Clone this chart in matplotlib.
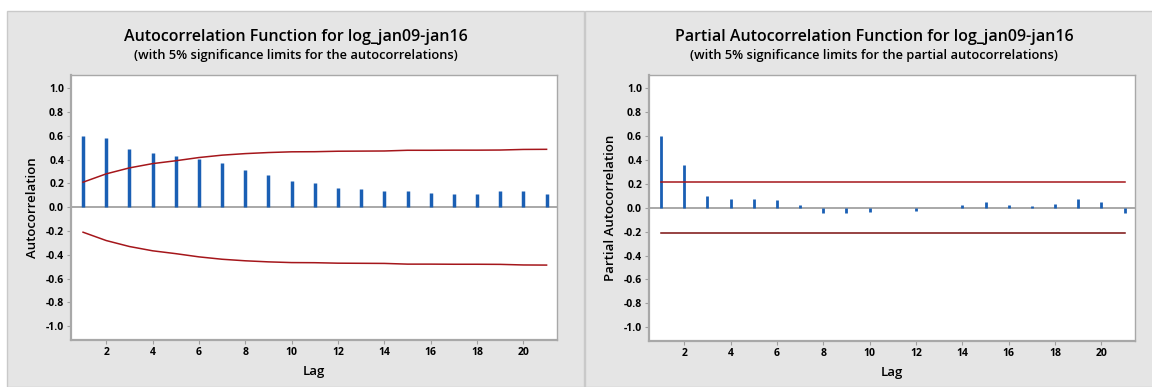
import matplotlib.pyplot as plt
from matplotlib.patches import Rectangle

# ACF / PACF values
lags = list(range(1, 22))
acf = [0.60, 0.583, 0.49, 0.457, 0.431, 0.403, 0.372, 0.313, 0.270, 0.220, 0.203,
       0.161, 0.152, 0.135, 0.135, 0.118, 0.107, 0.107, 0.135, 0.14, 0.107]
acf_limit = [0.21, 0.28, 0.33, 0.366, 0.39, 0.417, 0.437, 0.45, 0.459, 0.465, 0.466,
             0.47, 0.471, 0.472, 0.478, 0.478, 0.479, 0.479, 0.480, 0.485, 0.486]
pacf = [0.60, 0.358, 0.10, 0.074, 0.074, 0.066, 0.026, -0.046, -0.046, -0.037, 0.0,
        -0.029, 0.0, 0.02, 0.049, 0.02, 0.017, 0.034, 0.074, 0.049, -0.046]
pacf_limit = 0.214

yticks = [1.0, 0.8, 0.6, 0.4, 0.2, 0.0, -0.2, -0.4, -0.6, -0.8, -1.0]
xticks = [2, 4, 6, 8, 10, 12, 14, 16, 18, 20]

plt.rcParams['font.family'] = ['Open Sans', 'DejaVu Sans']
bar_color = '#1a5fb4'
lim_color = '#a5161b'
grey_bg = '#e5e5e5'

fig = plt.figure(figsize=(11.52, 3.87), dpi=100)
W, H = 1152, 387

# grey panels behind each chart
fig.patches.append(Rectangle((7 / W, 0), 577 / W, 1 - 11 / H, transform=fig.transFigure,
                             facecolor=grey_bg, edgecolor='#c9c9c9', lw=1, zorder=-5))
fig.patches.append(Rectangle((585 / W, 0), 567 / W + 0.01, 1 - 11 / H, transform=fig.transFigure,
                             facecolor=grey_bg, edgecolor='#c9c9c9', lw=1, zorder=-5))


def setup(ax, ylabel):
    ax.set_zorder(2)
    ax.set_xlim(0.48, 21.45)
    ax.set_ylim(-1.115, 1.11)
    ax.axhline(0, color='#9a9a9a', lw=1.2, zorder=1)
    ax.set_yticks(yticks)
    ax.set_yticklabels(['%.1f' % v for v in yticks])
    ax.set_xticks(xticks)
    ax.tick_params(axis='both', labelsize=7.5, length=3, width=0.8, color='#a0a0a0', pad=2)
    for lab in ax.get_xticklabels() + ax.get_yticklabels():
        lab.set_fontweight('bold')
    for s in ax.spines.values():
        s.set_color('#a8a8a8')
        s.set_linewidth(1)
    ax.spines['bottom'].set_linewidth(1.6)
    ax.spines['left'].set_linewidth(1.6)
    ax.set_ylabel(ylabel, fontsize=9.5, fontweight='semibold', labelpad=5)
    ax.set_xlabel('Lag', fontsize=9.5, fontweight='semibold', labelpad=5)


# left: ACF
ax1 = fig.add_axes([71 / W, 47 / H, 486 / W, 265 / H])
ax1.vlines(lags, 0, acf, color=bar_color, lw=2.5, zorder=2)
ax1.plot(lags, acf_limit, color=lim_color, lw=1.1, zorder=3)
ax1.plot(lags, [-v for v in acf_limit], color=lim_color, lw=1.1, zorder=3)
setup(ax1, 'Autocorrelation')

# right: PACF
ax2 = fig.add_axes([649 / W, 46 / H, 486 / W, 266 / H])
ax2.vlines(lags, 0, pacf, color=bar_color, lw=2.0, zorder=2)
ax2.plot([lags[0], lags[-1]], [pacf_limit, pacf_limit], color=lim_color, lw=1.1, zorder=3)
ax2.plot([lags[0], lags[-1]], [-pacf_limit, -pacf_limit], color='#7a1010', lw=1.1, zorder=3)
setup(ax2, 'Partial Autocorrelation')

fig.text(296 / W, 1 - 37 / H, 'Autocorrelation Function for log_jan09-jan16',
         ha='center', va='center', fontsize=11.5, fontweight='semibold')
fig.text(296 / W, 1 - 56 / H, '(with 5% significance limits for the autocorrelations)',
         ha='center', va='center', fontsize=9.3, fontweight='semibold')
fig.text(874 / W, 1 - 37 / H, 'Partial Autocorrelation Function for log_jan09-jan16',
         ha='center', va='center', fontsize=11.5, fontweight='semibold')
fig.text(874 / W, 1 - 56 / H, '(with 5% significance limits for the partial autocorrelations)',
         ha='center', va='center', fontsize=9.3, fontweight='semibold')

fig.savefig('out.png', dpi=100)
